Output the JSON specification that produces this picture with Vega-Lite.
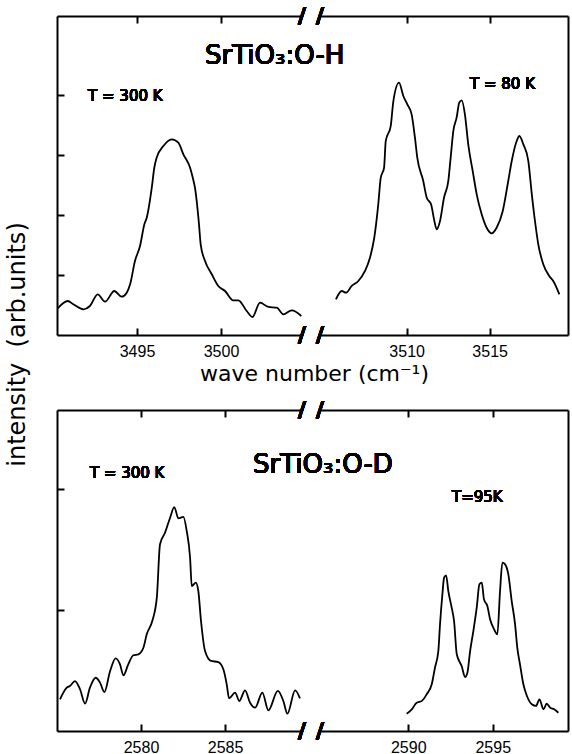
{
  "$schema": "https://vega.github.io/schema/vega-lite/v6.json",
  "background": "white",
  "padding": {"left": 5, "top": 5, "right": 4, "bottom": 1},
  "bounds": "flush",
  "columns": 2,
  "spacing": {"row": 75, "column": 18},
  "config": {
    "view": {"stroke": null},
    "axis": {
      "grid": false,
      "domainColor": "black",
      "domainWidth": 2,
      "tickColor": "black",
      "tickWidth": 2,
      "tickSize": -7,
      "labelPadding": 15,
      "labelFont": "Liberation Sans",
      "labelFontSize": 16,
      "labelColor": "black",
      "titleColor": "black",
      "titleFont": "DejaVu Sans",
      "titleFontWeight": "normal"
    },
    "text": {"font": "DejaVu Sans", "color": "black"}
  },
  "datasets": {
    "oh300": [
      {"w": 3490.28, "i": 0.445}, {"w": 3490.88, "i": 0.567}, {"w": 3491.21, "i": 0.512}, {"w": 3491.81, "i": 0.428},
      {"w": 3492.20, "i": 0.483}, {"w": 3492.66, "i": 0.678}, {"w": 3493.10, "i": 0.555}, {"w": 3493.65, "i": 0.733},
      {"w": 3494.09, "i": 0.638}, {"w": 3494.39, "i": 0.705}, {"w": 3494.59, "i": 0.845}, {"w": 3494.88, "i": 1.233},
      {"w": 3495.18, "i": 1.483}, {"w": 3495.44, "i": 1.845}, {"w": 3495.58, "i": 1.955}, {"w": 3495.88, "i": 2.455},
      {"w": 3496.03, "i": 2.788}, {"w": 3496.17, "i": 2.955}, {"w": 3496.57, "i": 3.15}, {"w": 3497.07, "i": 3.262},
      {"w": 3497.46, "i": 3.205}, {"w": 3497.76, "i": 3.012}, {"w": 3498.16, "i": 2.788}, {"w": 3498.32, "i": 2.622},
      {"w": 3498.45, "i": 2.455}, {"w": 3498.69, "i": 1.845}, {"w": 3498.79, "i": 1.512}, {"w": 3499.05, "i": 1.233},
      {"w": 3499.45, "i": 1.012}, {"w": 3499.84, "i": 0.817}, {"w": 3500.24, "i": 0.733}, {"w": 3500.73, "i": 0.578},
      {"w": 3501.03, "i": 0.578}, {"w": 3501.53, "i": 0.40}, {"w": 3501.87, "i": 0.30}, {"w": 3502.32, "i": 0.538},
      {"w": 3502.82, "i": 0.467}, {"w": 3503.32, "i": 0.455}, {"w": 3503.71, "i": 0.345}, {"w": 3504.21, "i": 0.412},
      {"w": 3504.78, "i": 0.317}
    ],
    "oh80": [
      {"w": 3505.74, "i": 0.595}, {"w": 3506.09, "i": 0.733}, {"w": 3506.35, "i": 0.705}, {"w": 3506.69, "i": 0.817},
      {"w": 3507.09, "i": 0.90}, {"w": 3507.49, "i": 1.067}, {"w": 3507.79, "i": 1.288}, {"w": 3508.05, "i": 1.622},
      {"w": 3508.29, "i": 2.178}, {"w": 3508.44, "i": 2.622}, {"w": 3508.64, "i": 2.788}, {"w": 3508.74, "i": 3.233},
      {"w": 3509.04, "i": 3.483}, {"w": 3509.20, "i": 3.90}, {"w": 3509.54, "i": 4.205}, {"w": 3509.80, "i": 3.983},
      {"w": 3510.04, "i": 3.845}, {"w": 3510.30, "i": 3.678}, {"w": 3510.50, "i": 3.288}, {"w": 3510.64, "i": 2.955},
      {"w": 3511.00, "i": 2.567}, {"w": 3511.21, "i": 2.288}, {"w": 3511.47, "i": 2.178}, {"w": 3511.67, "i": 1.90},
      {"w": 3511.81, "i": 1.762}, {"w": 3512.01, "i": 1.90}, {"w": 3512.25, "i": 2.288}, {"w": 3512.51, "i": 2.567},
      {"w": 3512.67, "i": 3.012}, {"w": 3512.81, "i": 3.40}, {"w": 3513.01, "i": 3.622}, {"w": 3513.17, "i": 3.872},
      {"w": 3513.32, "i": 3.912}, {"w": 3513.51, "i": 3.678}, {"w": 3513.71, "i": 3.178}, {"w": 3513.98, "i": 2.733},
      {"w": 3514.22, "i": 2.345}, {"w": 3514.52, "i": 2.012}, {"w": 3514.82, "i": 1.788}, {"w": 3515.12, "i": 1.695},
      {"w": 3515.42, "i": 1.788}, {"w": 3515.79, "i": 2.067}, {"w": 3516.12, "i": 2.567}, {"w": 3516.33, "i": 2.90},
      {"w": 3516.63, "i": 3.233}, {"w": 3516.79, "i": 3.317}, {"w": 3517.03, "i": 3.178}, {"w": 3517.33, "i": 2.90},
      {"w": 3517.54, "i": 2.345}, {"w": 3517.73, "i": 1.90}, {"w": 3517.93, "i": 1.512}, {"w": 3518.23, "i": 1.178},
      {"w": 3518.59, "i": 0.983}, {"w": 3518.83, "i": 0.90}, {"w": 3519.20, "i": 0.678}
    ],
    "od300": [
      {"w": 2575.18, "i": 0.262}, {"w": 2575.58, "i": 0.358}, {"w": 2575.77, "i": 0.372}, {"w": 2576.07, "i": 0.413},
      {"w": 2576.37, "i": 0.345}, {"w": 2576.67, "i": 0.226}, {"w": 2576.96, "i": 0.358}, {"w": 2577.30, "i": 0.44},
      {"w": 2577.56, "i": 0.40}, {"w": 2577.82, "i": 0.322}, {"w": 2578.16, "i": 0.496}, {"w": 2578.49, "i": 0.601},
      {"w": 2578.75, "i": 0.551}, {"w": 2578.95, "i": 0.46}, {"w": 2579.24, "i": 0.551}, {"w": 2579.54, "i": 0.626},
      {"w": 2579.84, "i": 0.634}, {"w": 2580.14, "i": 0.688}, {"w": 2580.34, "i": 0.799}, {"w": 2580.67, "i": 0.909},
      {"w": 2580.94, "i": 1.102}, {"w": 2581.13, "i": 1.543}, {"w": 2581.43, "i": 1.639}, {"w": 2581.73, "i": 1.763},
      {"w": 2581.98, "i": 1.851}, {"w": 2582.22, "i": 1.758}, {"w": 2582.52, "i": 1.769}, {"w": 2582.72, "i": 1.653},
      {"w": 2582.92, "i": 1.432}, {"w": 2583.02, "i": 1.198}, {"w": 2583.26, "i": 1.226}, {"w": 2583.41, "i": 1.157},
      {"w": 2583.57, "i": 0.909}, {"w": 2583.81, "i": 0.661}, {"w": 2584.17, "i": 0.579}, {"w": 2584.60, "i": 0.570},
      {"w": 2584.90, "i": 0.51}, {"w": 2585.10, "i": 0.386}, {"w": 2585.24, "i": 0.27}, {"w": 2585.60, "i": 0.317},
      {"w": 2585.85, "i": 0.248}, {"w": 2586.19, "i": 0.336}, {"w": 2586.49, "i": 0.234}, {"w": 2586.79, "i": 0.193},
      {"w": 2587.22, "i": 0.317}, {"w": 2587.58, "i": 0.171}, {"w": 2588.14, "i": 0.331}, {"w": 2588.47, "i": 0.248},
      {"w": 2588.71, "i": 0.143}, {"w": 2589.17, "i": 0.336}, {"w": 2589.46, "i": 0.27}
    ],
    "od95": [
      {"w": 2589.91, "i": 0.143}, {"w": 2590.21, "i": 0.179}, {"w": 2590.50, "i": 0.234}, {"w": 2590.80, "i": 0.248},
      {"w": 2591.09, "i": 0.303}, {"w": 2591.39, "i": 0.386}, {"w": 2591.58, "i": 0.523}, {"w": 2591.78, "i": 0.661},
      {"w": 2591.88, "i": 0.882}, {"w": 2592.02, "i": 1.13}, {"w": 2592.12, "i": 1.267}, {"w": 2592.24, "i": 1.287},
      {"w": 2592.37, "i": 1.157}, {"w": 2592.57, "i": 1.019}, {"w": 2592.71, "i": 0.909}, {"w": 2592.87, "i": 0.634},
      {"w": 2593.16, "i": 0.537}, {"w": 2593.36, "i": 0.446}, {"w": 2593.50, "i": 0.482}, {"w": 2593.66, "i": 0.661},
      {"w": 2593.85, "i": 0.826}, {"w": 2594.05, "i": 1.019}, {"w": 2594.21, "i": 1.212}, {"w": 2594.35, "i": 1.226},
      {"w": 2594.48, "i": 1.088}, {"w": 2594.68, "i": 1.033}, {"w": 2594.84, "i": 0.923}, {"w": 2595.08, "i": 0.84},
      {"w": 2595.27, "i": 0.799}, {"w": 2595.43, "i": 1.157}, {"w": 2595.57, "i": 1.391}, {"w": 2595.73, "i": 1.377},
      {"w": 2595.92, "i": 1.295}, {"w": 2596.12, "i": 1.074}, {"w": 2596.32, "i": 0.882}, {"w": 2596.45, "i": 0.689},
      {"w": 2596.61, "i": 0.551}, {"w": 2596.81, "i": 0.386}, {"w": 2597.02, "i": 0.289}, {"w": 2597.31, "i": 0.221},
      {"w": 2597.56, "i": 0.207}, {"w": 2597.76, "i": 0.262}, {"w": 2598.00, "i": 0.179}, {"w": 2598.19, "i": 0.226},
      {"w": 2598.39, "i": 0.193}, {"w": 2598.63, "i": 0.179}, {"w": 2598.88, "i": 0.151}
    ]
  },
  "concat": [
    {
      "width": 245,
      "height": 319,
      "data": {"name": "oh300"},
      "resolve": {"axis": {"x": "independent"}},
      "layer": [
        {
          "mark": {"type": "line", "color": "black", "strokeWidth": 1.8, "interpolate": "monotone"},
          "encoding": {
            "x": {"field": "w", "type": "quantitative", "scale": {"domain": [3490.24, 3504.82], "nice": false, "zero": false},
                  "axis": {"orient": "bottom", "values": [3495, 3500], "format": "d", "title": "wave number (cm⁻¹)",
                           "titleX": 257, "titleY": 38, "titleAlign": "center", "titleBaseline": "middle", "titleFontSize": 22, "titleAngle": 0}},
            "y": {"field": "i", "type": "quantitative", "scale": {"domain": [0, 5.317], "nice": false, "zero": false},
                  "axis": {"orient": "left", "values": [1, 2, 3, 4], "labels": false, "title": "intensity\u00a0 (arb.units)",
                           "titleX": -40, "titleY": 328, "titleAngle": 270, "titleAlign": "center", "titleBaseline": "middle", "titleFontSize": 24}}
          }
        },
        {
          "mark": {"type": "line", "strokeOpacity": 0},
          "encoding": {
            "x": {"field": "w", "type": "quantitative", "axis": {"orient": "top", "values": [3495, 3500], "labels": false, "title": null}},
            "y": {"field": "i", "type": "quantitative"}
          }
        },
        {
          "mark": {"type": "text", "text": "SrTiO₃:O-H", "align": "left", "baseline": "alphabetic", "fontSize": 26},
          "encoding": {"x": {"datum": 3499.05, "axis": null}, "y": {"datum": 4.517}}
        },
        {
          "mark": {"type": "text", "text": "T = 300 K", "align": "left", "baseline": "alphabetic", "fontSize": 15},
          "encoding": {"x": {"datum": 3492.09, "axis": null}, "y": {"datum": 3.9}}
        },
        {
          "mark": {"type": "text", "text": "/", "align": "center", "baseline": "middle", "fontSize": 22, "fontWeight": "bold"},
          "encoding": {"x": {"datum": 3504.82, "axis": null}, "y": {"datum": 0}}
        },
        {
          "mark": {"type": "text", "text": "/", "align": "center", "baseline": "middle", "fontSize": 22, "fontWeight": "bold"},
          "encoding": {"x": {"datum": 3504.82, "axis": null}, "y": {"datum": 5.317}}
        }
      ]
    },
    {
      "width": 248,
      "height": 319,
      "data": {"name": "oh80"},
      "resolve": {"axis": {"x": "independent"}},
      "layer": [
        {
          "mark": {"type": "line", "color": "black", "strokeWidth": 1.8, "interpolate": "monotone"},
          "encoding": {
            "x": {"field": "w", "type": "quantitative", "scale": {"domain": [3504.78, 3519.72], "nice": false, "zero": false},
                  "axis": {"orient": "bottom", "values": [3510, 3515], "format": "d", "title": null}},
            "y": {"field": "i", "type": "quantitative", "scale": {"domain": [0, 5.317], "nice": false, "zero": false},
                  "axis": {"orient": "right", "ticks": false, "labels": false, "title": null}}
          }
        },
        {
          "mark": {"type": "line", "strokeOpacity": 0},
          "encoding": {
            "x": {"field": "w", "type": "quantitative", "axis": {"orient": "top", "values": [3510, 3515], "labels": false, "title": null}},
            "y": {"field": "i", "type": "quantitative"}
          }
        },
        {
          "mark": {"type": "text", "text": "T = 80 K", "align": "left", "baseline": "alphabetic", "fontSize": 15},
          "encoding": {"x": {"datum": 3513.82, "axis": null}, "y": {"datum": 4.1}}
        },
        {
          "mark": {"type": "text", "text": "/", "align": "center", "baseline": "middle", "fontSize": 22, "fontWeight": "bold"},
          "encoding": {"x": {"datum": 3504.78, "axis": null}, "y": {"datum": 0}}
        },
        {
          "mark": {"type": "text", "text": "/", "align": "center", "baseline": "middle", "fontSize": 22, "fontWeight": "bold"},
          "encoding": {"x": {"datum": 3504.78, "axis": null}, "y": {"datum": 5.317}}
        }
      ]
    },
    {
      "width": 245,
      "height": 321,
      "data": {"name": "od300"},
      "resolve": {"axis": {"x": "independent"}},
      "layer": [
        {
          "mark": {"type": "line", "color": "black", "strokeWidth": 1.8, "interpolate": "monotone"},
          "encoding": {
            "x": {"field": "w", "type": "quantitative", "scale": {"domain": [2575.0, 2589.58], "nice": false, "zero": false},
                  "axis": {"orient": "bottom", "values": [2580, 2585], "format": "d", "title": null}},
            "y": {"field": "i", "type": "quantitative", "scale": {"domain": [0, 2.653], "nice": false, "zero": false},
                  "axis": {"orient": "left", "values": [1, 2], "labels": false, "title": null}}
          }
        },
        {
          "mark": {"type": "line", "strokeOpacity": 0},
          "encoding": {
            "x": {"field": "w", "type": "quantitative", "axis": {"orient": "top", "values": [2580, 2585], "labels": false, "title": null}},
            "y": {"field": "i", "type": "quantitative"}
          }
        },
        {
          "mark": {"type": "text", "text": "SrTiO₃:O-D", "align": "left", "baseline": "alphabetic", "fontSize": 26},
          "encoding": {"x": {"datum": 2586.67, "axis": null}, "y": {"datum": 2.132}}
        },
        {
          "mark": {"type": "text", "text": "T = 300 K", "align": "left", "baseline": "alphabetic", "fontSize": 15},
          "encoding": {"x": {"datum": 2576.96, "axis": null}, "y": {"datum": 2.091}}
        },
        {
          "mark": {"type": "text", "text": "/", "align": "center", "baseline": "middle", "fontSize": 22, "fontWeight": "bold"},
          "encoding": {"x": {"datum": 2589.58, "axis": null}, "y": {"datum": 0}}
        },
        {
          "mark": {"type": "text", "text": "/", "align": "center", "baseline": "middle", "fontSize": 22, "fontWeight": "bold"},
          "encoding": {"x": {"datum": 2589.58, "axis": null}, "y": {"datum": 2.653}}
        }
      ]
    },
    {
      "width": 248,
      "height": 321,
      "data": {"name": "od95"},
      "resolve": {"axis": {"x": "independent"}},
      "layer": [
        {
          "mark": {"type": "line", "color": "black", "strokeWidth": 1.8, "interpolate": "monotone"},
          "encoding": {
            "x": {"field": "w", "type": "quantitative", "scale": {"domain": [2584.78, 2599.45], "nice": false, "zero": false},
                  "axis": {"orient": "bottom", "values": [2590, 2595], "format": "d", "title": null}},
            "y": {"field": "i", "type": "quantitative", "scale": {"domain": [0, 2.653], "nice": false, "zero": false},
                  "axis": {"orient": "right", "ticks": false, "labels": false, "title": null}}
          }
        },
        {
          "mark": {"type": "line", "strokeOpacity": 0},
          "encoding": {
            "x": {"field": "w", "type": "quantitative", "axis": {"orient": "top", "values": [2590, 2595], "labels": false, "title": null}},
            "y": {"field": "i", "type": "quantitative"}
          }
        },
        {
          "mark": {"type": "text", "text": "T=95K", "align": "left", "baseline": "alphabetic", "fontSize": 15},
          "encoding": {"x": {"datum": 2592.59, "axis": null}, "y": {"datum": 1.893}}
        },
        {
          "mark": {"type": "text", "text": "/", "align": "center", "baseline": "middle", "fontSize": 22, "fontWeight": "bold"},
          "encoding": {"x": {"datum": 2584.78, "axis": null}, "y": {"datum": 0}}
        },
        {
          "mark": {"type": "text", "text": "/", "align": "center", "baseline": "middle", "fontSize": 22, "fontWeight": "bold"},
          "encoding": {"x": {"datum": 2584.78, "axis": null}, "y": {"datum": 2.653}}
        }
      ]
    }
  ]
}
